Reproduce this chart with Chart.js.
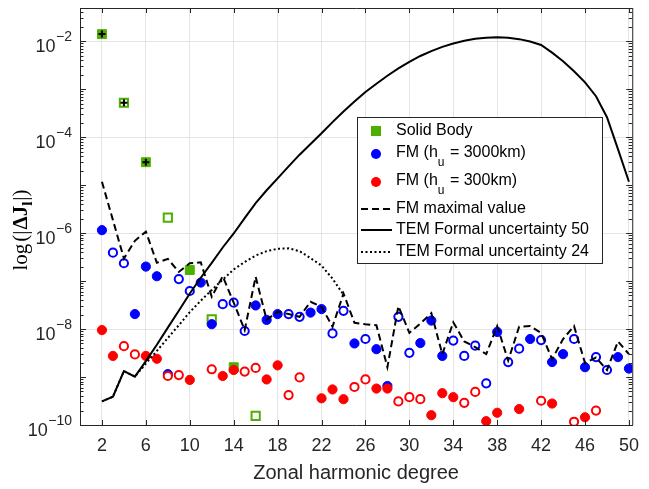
<!DOCTYPE html>
<html>
<head>
<meta charset="utf-8">
<script src="https://cdn.jsdelivr.net/npm/chart.js@4.4.0/dist/chart.umd.min.js"></script>
<style>
  html, body { margin: 0; padding: 0; background: #fff; }
  #wrap { width: 649px; height: 489px; }
</style>
</head>
<body>
<div id="wrap"><canvas id="chart" width="649" height="489"></canvas></div>
<script>
// zonal degrees 2..50
const degrees = [2, 3, 4, 5, 6, 7, 8, 9, 10, 11, 12, 13, 14, 15, 16, 17, 18, 19, 20, 21, 22, 23, 24, 25, 26,
  27, 28, 29, 30, 31, 32, 33, 34, 35, 36, 37, 38, 39, 40, 41, 42, 43, 44, 45, 46, 47, 48, 49, 50];

// solid body (filled = positive, open = negative)
const sbDegrees = [2, 4, 6, 8, 10, 12, 14, 16];
const sbValues = [1.4e-2, 5.2e-4, 3.0e-5, 2.1e-6, 1.7e-7, 1.6e-8, 1.6e-9, 1.55e-10];
const sbSigns = [1, -1, 1, -1, 1, -1, 1, -1];
const sbCrossDegrees = [2, 4, 6];

// FM (hu = 3000km)
const fm3000 = [1.15e-6, 3.9e-7, 2.35e-7, 2.05e-8, 2.0e-7, 1.26e-7, 1.15e-9, 1.1e-7, 6.2e-8, 9.3e-8,
  1.26e-8, 3.3e-8, 3.55e-8, 9.1e-9, 3.1e-8, 1.55e-8, 2.05e-8, 2.05e-8, 1.8e-8, 2.2e-8,
  2.6e-8, 8.1e-9, 2.4e-8, 5.0e-9, 6.2e-9, 3.8e-9, 6.5e-10, 1.8e-8, 3.2e-9, 5.1e-9,
  1.5e-8, 2.75e-9, 5.75e-9, 2.75e-9, 4.5e-9, 7.4e-10, 8.7e-9, 2.05e-9, 3.9e-9, 6.2e-9,
  5.9e-9, 2.05e-9, 3.0e-9, 6.2e-9, 1.6e-9, 2.6e-9, 1.4e-9, 2.6e-9, 1.5e-9];
const fm3000Signs = [1, -1, -1, 1, 1, 1, 1, -1, -1, 1,
  1, -1, -1, -1, 1, 1, 1, -1, -1, 1,
  1, -1, -1, 1, -1, 1, 1, -1, -1, 1,
  1, 1, -1, -1, -1, -1, 1, -1, -1, 1,
  -1, 1, 1, -1, 1, -1, -1, 1, 1];

// FM (hu = 300km)
const fm300 = [9.5e-9, 2.75e-9, 4.4e-9, 2.95e-9, 2.75e-9, 2.4e-9, 1.05e-9, 1.1e-9, 8.7e-10, null,
  1.45e-9, 1.05e-9, 1.4e-9, 1.3e-9, 1.55e-9, 8.9e-10, 1.75e-9, 4.2e-10, 9.8e-10, null,
  3.6e-10, 5.5e-10, 3.45e-10, 6.2e-10, 8.9e-10, 5.75e-10, 5.75e-10, 3.1e-10, 3.8e-10, 3.45e-10,
  1.6e-10, 4.6e-10, 3.8e-10, 2.9e-10, 4.9e-10, 1.2e-10, 1.8e-10, null, 2.15e-10, null,
  3.2e-10, 2.8e-10, null, 1.17e-10, 1.45e-10, 2.0e-10, null, null, null];
const fm300Signs = [1, 1, -1, -1, 1, 1, -1, -1, 1, null,
  -1, 1, 1, -1, -1, 1, 1, -1, -1, null,
  1, 1, 1, -1, -1, 1, 1, -1, -1, -1,
  1, 1, 1, -1, -1, 1, 1, null, 1, null,
  -1, 1, null, -1, 1, -1, null, null, null];

// FM maximal value
const fmMax = [1.17e-5, 1.86e-6, 2.95e-7, 6.9e-7, 1.07e-6, 2.4e-7, 2.9e-7, 1.55e-7, 2.35e-7, 2.45e-7,
  4.7e-8, 1.26e-7, 3.55e-8, 9.5e-9, 1.23e-7, 1.55e-8, 2.3e-8, 2.05e-8, 1.8e-8, 3.7e-8,
  2.9e-8, 1.12e-8, 5.5e-8, 1.35e-8, 1.26e-8, 1.2e-8, 1.6e-9, 3.0e-8, 8.3e-9, 1.3e-8,
  2.15e-8, 3.0e-9, 1.38e-8, 5.5e-9, 4.2e-9, 3.0e-9, 1.15e-8, 2.2e-9, 1.12e-8, 1.15e-8,
  8.3e-9, 2.35e-9, 6.2e-9, 1.15e-8, 1.95e-9, 2.55e-9, 1.4e-9, 5.5e-9, 3.0e-9];

// TEM formal uncertainty 50
const tem50 = [3.1e-10, 3.9e-10, 1.33e-9, 1.02e-9, 2.15e-9, 4.7e-9, 1.07e-8, 2.4e-8, 5.5e-8, 1.17e-7,
  2.4e-7, 5.0e-7, 9.8e-7, 2.05e-6, 4.2e-6, 7.8e-6, 1.38e-5, 2.45e-5, 4.3e-5, 7.2e-5,
  1.2e-4, 2.05e-4, 3.4e-4, 5.5e-4, 8.7e-4, 1.29e-3, 1.9e-3, 2.7e-3, 3.7e-3, 4.9e-3,
  6.2e-3, 7.6e-3, 8.9e-3, 1.02e-2, 1.12e-2, 1.17e-2, 1.2e-2, 1.17e-2, 1.1e-2, 9.8e-3,
  8.3e-3, 5.75e-3, 3.8e-3, 2.35e-3, 1.38e-3, 7.1e-4, 2.6e-4, 5.6e-5, 1.17e-5];

// TEM formal uncertainty 24 (degrees 2..24)
const tem24 = [3.1e-10, 3.9e-10, 1.33e-9, 1.02e-9, 1.9e-9, 3.5e-9, 6.5e-9, 1.2e-8, 2.25e-8, 3.9e-8,
  6.5e-8, 1.07e-7, 1.74e-7, 2.5e-7, 3.4e-7, 4.2e-7, 4.7e-7, 4.8e-7, 4.2e-7, 3.0e-7,
  2.1e-7, 1.12e-7, 5.2e-8];

const xTicks = [2, 6, 10, 14, 18, 22, 26, 30, 34, 38, 42, 46, 50];
const yTickExp = [-10, -8, -6, -4, -2];
const seriesNames = ["Solid Body", "FM (h|u| = 3000km)", "FM (h|u| = 300km)", "FM maximal value",
  "TEM Formal uncertainty 50", "TEM Formal uncertainty 24"];

const GREEN = "rgb(77,175,0)";
const BLUE = "#0000ff";
const RED = "#ff0000";
const AXIS = "#262626";
const SANS = '"Liberation Sans", Arial, Helvetica, sans-serif';
const SERIF = '"Liberation Serif", "Times New Roman", serif';

function pick(xs, vals, signs, want) {
  const out = [];
  xs.forEach((n, i) => {
    if (vals[i] != null && signs[i] === want) out.push({ x: n, y: vals[i] });
  });
  return out;
}
function pts(xs, vals) {
  return vals.map((v, i) => ({ x: xs[i], y: v }));
}

function markers(data, color, filled, style, radius, order) {
  return {
    data,
    pointStyle: style,
    pointRadius: radius,
    pointHoverRadius: radius,
    pointBackgroundColor: filled ? color : "#ffffff",
    pointBorderColor: color,
    pointBorderWidth: filled ? 1 : 2,
    showLine: false,
    order,
  };
}
function line(data, dash, order) {
  return {
    data,
    showLine: true,
    borderColor: "#000",
    borderWidth: 2,
    borderDash: dash,
    pointRadius: 0,
    pointHoverRadius: 0,
    tension: 0,
    fill: false,
    order,
  };
}

const sbCross = sbCrossDegrees.map((d) => ({ x: d, y: sbValues[sbDegrees.indexOf(d)] }));

const datasets = [
  markers(pick(sbDegrees, sbValues, sbSigns, 1), GREEN, true, "rect", 6.3, 20),
  markers(pick(sbDegrees, sbValues, sbSigns, -1), GREEN, false, "rect", 5.8, 20),
  {
    data: sbCross, pointStyle: "cross", pointRadius: 3.5, pointBorderColor: "#000",
    pointBorderWidth: 2, showLine: false, order: 19,
  },
  markers(pick(degrees, fm3000, fm3000Signs, 1), BLUE, true, "circle", 4.6, 15),
  markers(pick(degrees, fm3000, fm3000Signs, -1), BLUE, false, "circle", 4.1, 15),
  markers(pick(degrees, fm300, fm300Signs, 1), RED, true, "circle", 4.6, 12),
  markers(pick(degrees, fm300, fm300Signs, -1), RED, false, "circle", 4.1, 12),
  line(pts(degrees, fmMax), [7, 4], 3),
  line(pts(degrees, tem50), [], 2),
  line(pts(degrees.slice(0, tem24.length), tem24), [2, 2.5], 1),
];

// frame, inward ticks, y labels with exponents, y title, legend
const decor = {
  id: "decor",
  afterDraw(chart) {
    const { ctx, chartArea: a, scales } = chart;
    const xs = scales.x, ys = scales.y;
    ctx.save();
    ctx.strokeStyle = AXIS;
    ctx.lineWidth = 1;
    ctx.beginPath();
    ctx.moveTo(a.left, a.top + 0.5); ctx.lineTo(a.right + 0.5, a.top + 0.5);
    ctx.moveTo(a.right + 0.5, a.top); ctx.lineTo(a.right + 0.5, a.bottom);
    // x ticks
    xTicks.forEach((v) => {
      const px = Math.round(xs.getPixelForValue(v)) + 0.5;
      ctx.moveTo(px, a.bottom); ctx.lineTo(px, a.bottom - 5);
      ctx.moveTo(px, a.top); ctx.lineTo(px, a.top + 5);
    });
    // y ticks, decades and minors
    for (let e = -10; e <= -1; e++) {
      for (let k = 1; k <= 9; k++) {
        const v = k * Math.pow(10, e);
        if (v < ys.min || v > ys.max) continue;
        const py = Math.round(ys.getPixelForValue(v)) + 0.5;
        const len = k === 1 ? 6 : 3.5;
        ctx.moveTo(a.left, py); ctx.lineTo(a.left + len, py);
        ctx.moveTo(a.right, py); ctx.lineTo(a.right - len, py);
      }
    }
    ctx.stroke();

    // y tick labels 10^e
    ctx.fillStyle = AXIS;
    ctx.textBaseline = "middle";
    ctx.textAlign = "right";
    yTickExp.forEach((e) => {
      const py = ys.getPixelForValue(Math.pow(10, e));
      const exp = "\u2212" + String(-e);
      ctx.font = "14px " + SANS;
      const ew = ctx.measureText(exp).width;
      ctx.fillText(exp, 72, py - 4);
      ctx.font = "18px " + SANS;
      ctx.fillText("10", 72 - ew - 0.5, py + 6);
    });

    // y axis title
    ctx.save();
    ctx.translate(20, 230);
    ctx.rotate(-Math.PI / 2);
    ctx.textAlign = "left";
    ctx.textBaseline = "alphabetic";
    ctx.fillStyle = "#000";
    const parts = [
      { t: "log", f: "21px " + SERIF, dy: 0, gap: 2 },
      { t: "(|", f: "21px " + SERIF, dy: 0, gap: 1 },
      { t: "\u0394J", f: "bold 21px " + SERIF, dy: 0, gap: 0 },
      { t: "l", f: "bold 15px " + SERIF, dy: 5, gap: 1 },
      { t: "|)", f: "21px " + SERIF, dy: 0, gap: 0 },
    ];
    let total = 0;
    parts.forEach((p) => { ctx.font = p.f; p.w = ctx.measureText(p.t).width; total += p.w + p.gap; });
    let cx = -total / 2;
    parts.forEach((p) => { ctx.font = p.f; ctx.fillText(p.t, cx, 7 + p.dy); cx += p.w + p.gap; });
    ctx.restore();

    // legend
    const box = { x: 357, y: 117, w: 245, h: 146 };
    const rows = [131, 154, 182, 209, 230, 252];
    ctx.fillStyle = "#fff";
    ctx.fillRect(box.x, box.y, box.w, box.h);
    ctx.strokeStyle = AXIS;
    ctx.lineWidth = 1;
    ctx.setLineDash([]);
    ctx.strokeRect(box.x + 0.5, box.y + 0.5, box.w, box.h);

    const mx = 376;
    ctx.fillStyle = GREEN;
    ctx.fillRect(mx - 5, rows[0] - 5, 10, 10);
    [[BLUE, rows[1]], [RED, rows[2]]].forEach(([c, y]) => {
      ctx.fillStyle = c;
      ctx.beginPath(); ctx.arc(mx, y, 5, 0, Math.PI * 2); ctx.fill();
    });
    ctx.strokeStyle = "#000";
    ctx.lineWidth = 2;
    [[7, 4], [], [2, 2.5]].forEach((d, i) => {
      ctx.setLineDash(d);
      ctx.beginPath(); ctx.moveTo(361, rows[3 + i]); ctx.lineTo(392, rows[3 + i]); ctx.stroke();
    });
    ctx.setLineDash([]);

    ctx.fillStyle = "#000";
    ctx.textAlign = "left";
    ctx.textBaseline = "middle";
    seriesNames.forEach((name, i) => {
      const y = rows[i] - (i === 1 || i === 2 ? 1 : 0);
      const bits = name.split("|");
      let tx = 396;
      bits.forEach((b, j) => {
        const sub = j % 2 === 1;
        ctx.font = (sub ? "12px " : "16px ") + SANS;
        ctx.fillText(b, tx, sub ? y + 10 : y);
        tx += ctx.measureText(b).width + (sub ? 1 : 0);
      });
    });
    ctx.restore();
  },
};

const ctx = document.getElementById("chart").getContext("2d");
const chart = new Chart(ctx, {
  type: "scatter",
  data: { datasets },
  options: {
    responsive: false,
    animation: false,
    layout: { padding: { top: 8, right: 8, left: 0, bottom: 0 } },
    plugins: { legend: { display: false }, tooltip: { enabled: false } },
    scales: {
      x: {
        type: "linear",
        min: 0,
        max: 50.3,
        afterBuildTicks: (s) => { s.ticks = xTicks.map((v) => ({ value: v })); },
        afterFit: (s) => { s.height = 64; },
        grid: { color: "#e4e4e4", drawTicks: false },
        border: { color: AXIS },
        ticks: { color: AXIS, font: { family: SANS, size: 18 }, padding: 10, maxRotation: 0, autoSkip: false },
        title: {
          display: true,
          text: "Zonal harmonic degree",
          color: AXIS,
          font: { family: SANS, size: 20 },
          padding: { top: 0, bottom: 4 },
        },
      },
      y: {
        type: "logarithmic",
        min: 1e-10,
        max: 0.049,
        afterBuildTicks: (s) => { s.ticks = yTickExp.map((e) => ({ value: Math.pow(10, e) })); },
        afterFit: (s) => { s.width = 80; },
        grid: { color: "#e4e4e4", drawTicks: false },
        border: { color: AXIS },
        ticks: { display: false },
      },
    },
  },
  plugins: [decor],
});
</script>
</body>
</html>
